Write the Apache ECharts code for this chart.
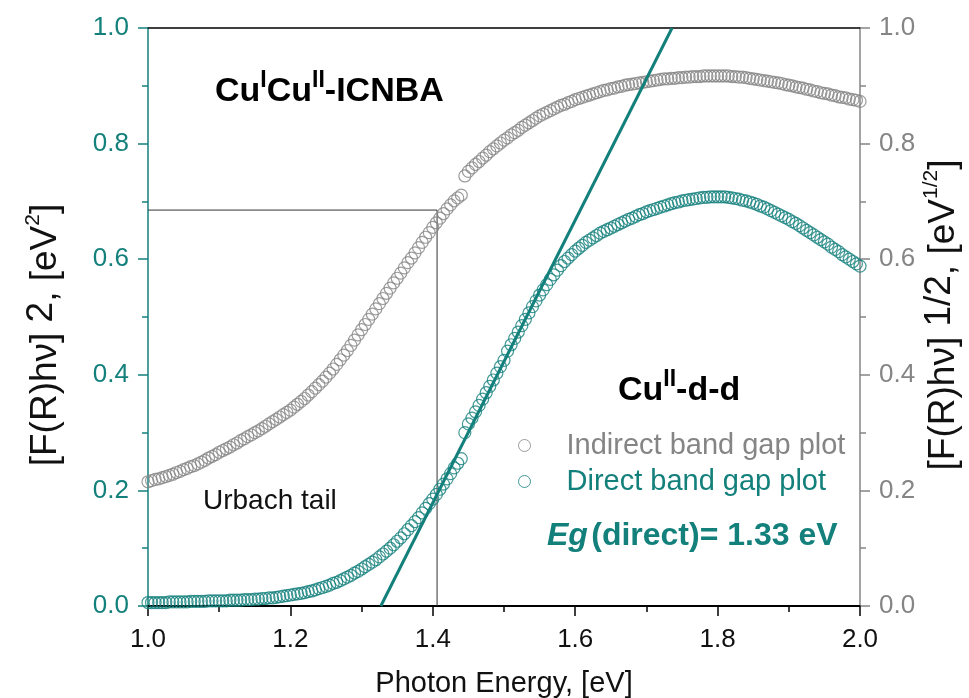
<!DOCTYPE html>
<html>
<head>
<meta charset="utf-8">
<script src="https://cdn.jsdelivr.net/npm/echarts@6/dist/echarts.min.js"></script>
<style>
  html, body { margin: 0; padding: 0; background: #fff; }
  #main { width: 969px; height: 698px; }
</style>
</head>
<body>
<div id="main"></div>
<script>
const energyStart = 1.0
const energyStep = 0.005

// indirect band gap plot, [F(R)hv]^1/2 (right axis)
const indirectValues = [
  .215, .217, .219, .220, .222, .224, .226, .228, .231, .233, .236, .238, .241, .243, .246, .249, .252, .256, .259, .262, .266,
  .269, .272, .275, .279, .282, .286, .289, .293, .296, .300,
  .303, .307, .311, .315, .319, .323, .327, .331, .335, .339,
  .344, .349, .354, .359, .365, .371, .377, .383, .389, .396,
  .403, .410, .418, .426, .434, .442, .451, .460, .469, .478,
  .487, .496, .505, .514, .523, .532, .541, .550, .559, .567,
  .576, .585, .594, .602, .611, .620, .629, .638, .646, .655,
  .663, .671, .679, .687, .694, .701, .706, .711, .744, .752,
  .758, .764, .769, .775, .780, .786, .791, .796, .801, .806,
  .810, .815, .819, .823, .828, .832, .836, .840, .844, .848,
  .851, .854, .857, .860, .863, .866, .868, .871, .873, .876,
  .878, .880, .882, .884, .886, .888, .890, .892, .893, .895,
  .896, .898, .899, .901, .902, .903, .904, .905, .906, .907,
  .908, .909, .910, .911, .912, .912, .913, .913, .914, .914,
  .915, .915, .916, .916, .916, .917, .917, .917, .917, .917,
  .917, .917, .917, .916, .916, .915, .915, .914, .913, .912,
  .911, .910, .909, .908, .907, .906, .905, .904, .902, .901,
  .900, .898, .897, .896, .894, .893, .891, .890, .888, .887,
  .886, .884, .883, .881, .880, .879, .877, .876, .875, .873
]

// direct band gap plot, [F(R)hv]^2 (left axis)
const directValues = [
  .006, .006, .006, .006, .006, .006, .007, .007, .007, .007, .007, .007, .008, .008, .008, .008, .008, .009, .009, .009, .009,
  .009, .009, .010, .010, .010, .010, .011, .011, .011, .012,
  .012, .013, .013, .014, .014, .015, .016, .017, .018, .019,
  .020, .021, .022, .023, .025, .026, .028, .030, .032, .034,
  .036, .039, .041, .044, .047, .050, .053, .057, .060, .064,
  .068, .072, .076, .080, .085, .090, .095, .100, .106, .112,
  .118, .125, .132, .139, .146, .153, .161, .169, .177, .185,
  .193, .202, .211, .220, .229, .239, .247, .255, .300, .315,
  .325, .336, .347, .358, .369, .380, .391, .403, .414, .425,
  .441, .452, .463, .474, .485, .496, .507, .518, .528, .538,
  .547, .556, .565, .573, .581, .589, .596, .602, .608, .614,
  .619, .624, .629, .633, .637, .641, .645, .648, .651, .654,
  .657, .660, .663, .666, .669, .671, .674, .677, .679, .682,
  .684, .686, .688, .690, .692, .694, .696, .698, .699, .701,
  .702, .703, .704, .705, .706, .707, .707, .708, .708, .708,
  .708, .708, .707, .706, .705, .704, .702, .701, .699, .697,
  .695, .692, .690, .687, .684, .681, .678, .675, .672, .669,
  .665, .662, .658, .654, .650, .646, .642, .638, .634, .630,
  .626, .621, .617, .613, .608, .604, .600, .596, .592, .588
]

// linear fit of the direct plot: crosses zero at Eg, reaches 1.0 at fitTopEnergy
const fitEg = 1.327
const fitTopEnergy = 1.736

// Urbach tail box
const urbachEdge = 1.406
const urbachTop = 0.685

const xRange = [1.0, 2.0]
const yRange = [0, 1.0]

const teal = "#13807c"
const gray = "#858585"
const font = "Liberation Sans, Arial, sans-serif"

const toPoints = values => values.map((v, i) => [+(energyStart + i * energyStep).toFixed(3), v])

const chartContainer = document.getElementById("main")
const myChart = echarts.init(chartContainer)

const yAxisBase = (color) => ({
  type: "value",
  min: yRange[0],
  max: yRange[1],
  interval: 0.2,
  axisLine: { show: true, onZero: false, lineStyle: { color: color, width: 1.5 } },
  axisTick: { show: true, length: 10, lineStyle: { color: color, width: 1.5 } },
  minorTick: { show: true, splitNumber: 2, length: 6, lineStyle: { color: color, width: 1.5 } },
  axisLabel: { color: color, fontSize: 26, fontFamily: font, margin: 19, formatter: v => v.toFixed(1) },
  splitLine: { show: false }
})

// rotated axis title with a raised power and a small superscript unit power
const sideTitle = (x, y, power, unitPower) => ({
  type: "text", x: x, y: y, rotation: Math.PI / 2,
  style: {
    text: `{n|[F(R)hν] }{r|${power}}{n|, [eV}{s|${unitPower}}{n|]}`,
    align: "center", verticalAlign: "middle",
    rich: {
      n: { fontSize: 37, fontFamily: font, fill: "#111", lineHeight: 46 },
      r: { fontSize: 37, fontFamily: font, fill: "#111", lineHeight: 22, verticalAlign: "top" },
      s: { fontSize: 21, fontFamily: font, fill: "#111", lineHeight: 12, verticalAlign: "top" }
    }
  }
})

const supText = (left, top, text) => ({
  type: "text", left: left, top: top,
  style: {
    text: text,
    rich: {
      b: { fontSize: 34, fontWeight: "bold", fontFamily: font, fill: "#000", lineHeight: 46 },
      s: { fontSize: 23, fontWeight: "bold", fontFamily: font, fill: "#000", lineHeight: 6, verticalAlign: "top" }
    }
  }
})

const option = {
  animation: false,
  backgroundColor: "#fff",
  grid: { left: 148, right: 109, top: 28, bottom: 92, outerBoundsMode: "none", containLabel: false },
  xAxis: [
    {
      type: "value",
      min: xRange[0],
      max: xRange[1],
      interval: 0.2,
      axisLine: { show: true, onZero: false, lineStyle: { color: "#000", width: 2 } },
      axisTick: { show: true, length: 10, lineStyle: { color: "#000", width: 1.5 } },
      minorTick: { show: true, splitNumber: 2, length: 6, lineStyle: { color: "#000", width: 1.5 } },
      axisLabel: { color: "#111", fontSize: 26, fontFamily: font, margin: 21, formatter: v => v.toFixed(1) },
      splitLine: { show: false },
      name: "Photon Energy, [eV]",
      nameLocation: "middle",
      nameGap: 63,
      nameTextStyle: { color: "#111", fontSize: 29, fontFamily: font }
    },
    {
      type: "value",
      position: "top",
      min: xRange[0],
      max: xRange[1],
      axisLine: { show: true, onZero: false, lineStyle: { color: "#000", width: 1.5 } },
      axisTick: { show: false },
      axisLabel: { show: false },
      splitLine: { show: false }
    }
  ],
  yAxis: [
    Object.assign(yAxisBase(teal), { position: "left" }),
    Object.assign(yAxisBase(gray), { position: "right" })
  ],
  legend: {
    orient: "vertical",
    left: 513,
    top: 425,
    itemWidth: 74,
    itemHeight: 12,
    itemGap: 5,
    textStyle: { fontSize: 29, fontFamily: font, lineHeight: 31 },
    data: [
      { name: "Indirect band gap plot", icon: "circle",
        itemStyle: { color: "#fff", borderColor: gray, borderWidth: 1 }, textStyle: { color: gray } },
      { name: "Direct band gap plot", icon: "circle",
        itemStyle: { color: "#fff", borderColor: teal, borderWidth: 1 }, textStyle: { color: teal } }
    ]
  },
  series: [
    {
      name: "Urbach tail",
      type: "line",
      yAxisIndex: 0,
      data: [[xRange[0], urbachTop], [urbachEdge, urbachTop], [urbachEdge, 0]],
      showSymbol: false,
      lineStyle: { color: "#333", width: 1 },
      silent: true,
      z: 1
    },
    {
      name: "Indirect band gap plot",
      type: "scatter",
      yAxisIndex: 1,
      data: toPoints(indirectValues),
      symbol: "circle",
      symbolSize: 12,
      itemStyle: { color: "rgba(255,255,255,0)", borderColor: gray, borderWidth: 1.2 },
      z: 2
    },
    {
      name: "Direct band gap plot",
      type: "scatter",
      yAxisIndex: 0,
      data: toPoints(directValues),
      symbol: "circle",
      symbolSize: 12,
      itemStyle: { color: "rgba(255,255,255,0)", borderColor: teal, borderWidth: 1.2 },
      z: 2
    },
    {
      name: "fit",
      type: "line",
      yAxisIndex: 0,
      data: [[fitEg, yRange[0]], [fitTopEnergy, yRange[1]]],
      showSymbol: false,
      lineStyle: { color: teal, width: 3 },
      silent: true,
      z: 3
    }
  ],
  graphic: [
    supText(215, 69, "{b|Cu}{s|I}{b|Cu}{s|II}{b|-ICNBA}"),
    supText(618, 368, "{b|Cu}{s|II}{b|-d-d}"),
    {
      type: "text", left: 203, top: 487,
      style: { text: "Urbach tail", fontSize: 28, fontFamily: font, fill: "#111" }
    },
    {
      type: "text", left: 547, top: 520,
      style: {
        text: "{i|Eg} {b|(direct)= 1.33 eV}",
        rich: {
          i: { fontSize: 32, fontWeight: "bold", fontStyle: "italic", fontFamily: font, fill: teal },
          b: { fontSize: 32, fontWeight: "bold", fontFamily: font, fill: teal }
        }
      }
    },
    sideTitle(46, 335, "2", "2"),
    sideTitle(944, 315, "1/2", "1/2")
  ]
}

myChart.setOption(option)
window.onresize = () => myChart.resize()
</script>
</body>
</html>
